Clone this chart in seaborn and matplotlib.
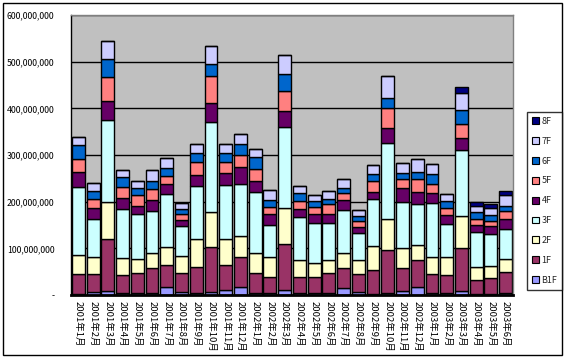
import numpy as np
import pandas as pd
import matplotlib
matplotlib.use("Agg")
import matplotlib.pyplot as plt
import matplotlib.patches as mpatches
import seaborn as sns

# ---- data (values in millions of yen) ----
UNIT = 1_000_000
months = (["2001年%d月" % m for m in range(1, 13)]
          + ["2002年%d月" % m for m in range(1, 13)]
          + ["2003年%d月" % m for m in range(1, 7)])

floors = ["B1F", "1F", "2F", "3F", "4F", "5F", "6F", "7F", "8F"]

b1f = [1.5, 5.7, 9, 4, 5, 5, 17, 7, 4, 7, 10, 18,
       5, 3.6, 11.5, 3.6, 3.6, 3.6, 16, 6.5, 3, 5, 8, 18,
       3.6, 3.6, 8, 3, 3, 4.3]
f1 = [44, 40, 110, 38, 43, 52, 48, 41, 55, 95, 55, 64,
      43, 35, 97, 34, 36, 44, 41, 39.5, 51, 92, 49, 56,
      42, 40, 92, 30, 34, 46]
f2 = [41, 36, 80, 38, 30, 32, 37, 35, 62, 75, 56, 45,
      41, 42, 77, 37, 30, 28, 32, 28, 50, 65, 43, 34,
      35, 37, 69, 26, 26, 26]
f3 = [146, 82, 176, 104, 95, 90, 114, 64, 112, 194, 114, 110,
      131, 70, 174, 93, 84, 78, 94, 58, 101, 163, 100, 86,
      116, 71, 142, 77, 67, 66]
f4 = [32, 22, 41, 23, 18, 25, 21, 13, 24, 40, 27, 37,
      25, 22, 35, 17, 19, 20, 20, 14, 15, 33, 29, 27,
      23, 19, 26, 13, 17, 20]
f5 = [28, 19, 51, 24, 23, 24, 19, 14, 28, 58, 22, 27,
      24, 15, 43, 17, 17, 21, 15, 12, 24, 43, 19, 27,
      18, 15, 29, 14, 12, 17]
f6 = [30, 19, 39, 21, 15, 16, 16, 10, 19, 26, 20, 22,
      26, 17, 37, 17, 12, 11, 11, 11, 15, 21, 13, 15,
      21, 15, 31, 15, 12, 11]
f7 = [17, 17, 38, 15, 15, 23, 21, 13, 19, 39, 19, 22,
      18, 21, 39, 15, 12, 17, 19, 13, 19, 47, 22, 28,
      22, 15, 36, 13, 16, 24]
f8 = [0, 0, 0, 0, 0, 0, 0, 0, 0, 0, 0, 0,
      0, 0, 0, 0, 0, 0, 0, 0, 0, 0, 0, 0,
      0, 0, 13, 9, 8, 8.6]

series = [b1f, f1, f2, f3, f4, f5, f6, f7, f8]
colors = ["#9999FF", "#993366", "#FFFFCC", "#CCFFFF", "#660066",
          "#FF8080", "#0066CC", "#CCCCFF", "#000080"]

ytick_vals = [0, 100, 200, 300, 400, 500, 600]

# ---- figure ----
sns.set_theme(style="white")
plt.rcParams["font.family"] = ["Noto Sans CJK JP", "DejaVu Sans"]

W, H = 566, 358
fig = plt.figure(figsize=(W / 100, H / 100), dpi=100)
fig.patch.set_facecolor("white")
ax = fig.add_axes([71 / W, 1 - 295 / H, (513 - 71) / W, (295 - 15) / H])
ax.set_facecolor("#C0C0C0")

# gridlines behind bars
for v in ytick_vals[1:]:
    ax.axhline(v * UNIT, color="black", lw=1.0, zorder=0.5)

bottom = np.zeros(len(months))
for name, vals, col in zip(floors, series, colors):
    vals_arr = np.array(vals, dtype=float) * UNIT
    df = pd.DataFrame({"month": months, "value": vals_arr})
    sns.barplot(data=df, x="month", y="value", order=months, bottom=bottom,
                color=col, saturation=1, width=0.87, errorbar=None,
                edgecolor="black", linewidth=1.0, ax=ax, zorder=2)
    bottom = bottom + vals_arr

ax.set_xlim(-0.5, len(months) - 0.5)
ax.set_ylim(0, 600 * UNIT)
ax.set_yticks([v * UNIT for v in ytick_vals])
ax.set_yticklabels(["-"] + ["{:,}".format(v * UNIT) for v in ytick_vals[1:]],
                   fontsize=6.3, color="black")
ax.set_xticks(range(len(months)))
ax.set_xticklabels(months, rotation=270, fontsize=6.8, color="black",
                   va="top", ha="center")
ax.set_xlabel("")
ax.set_ylabel("")
ax.tick_params(axis="y", length=3, width=1, color="black", direction="in", pad=12)
ax.tick_params(axis="x", length=0, pad=4)

for s in ["top", "right"]:
    ax.spines[s].set_color("#808080")
    ax.spines[s].set_linewidth(1)
ax.spines["left"].set_color("black")
ax.spines["left"].set_linewidth(1)
ax.spines["bottom"].set_color("black")
ax.spines["bottom"].set_linewidth(2)

# legend (top floor first)
handles = [mpatches.Patch(facecolor=c, edgecolor="black", linewidth=0.8, label=n)
           for n, c in zip(floors, colors)][::-1]
leg = fig.legend(handles=handles, loc="upper left",
                 bbox_to_anchor=(527 / W, 1 - 112 / H),
                 fontsize=6.5, frameon=True, fancybox=False, shadow=False,
                 handlelength=0.8, handleheight=0.8, handletextpad=0.25,
                 labelspacing=1.2, borderpad=0.55, borderaxespad=0)
leg.get_frame().set_edgecolor("black")
leg.get_frame().set_linewidth(1)

# chart border
fig.add_artist(mpatches.Rectangle((3 / W, 3 / H), 559 / W, 352 / H,
                                  transform=fig.transFigure, fill=False,
                                  edgecolor="black", linewidth=1))

fig.savefig("out.png", dpi=100)
